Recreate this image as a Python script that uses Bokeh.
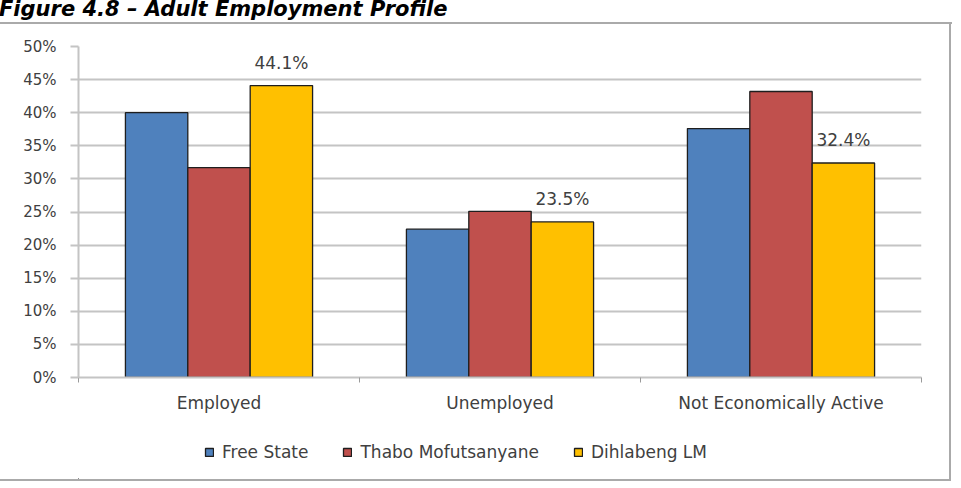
import numpy as np
from bokeh.plotting import figure
from bokeh.layouts import column, row
from bokeh.models import (ColumnDataSource, FixedTicker, PrintfTickFormatter, Range1d,
                          LabelSet, Legend, LegendItem, Div)
from bokeh.core.properties import value
from bokeh.transform import dodge
from bokeh.embed import file_html
from bokeh.resources import INLINE

# ---------------- data ----------------
categories = ["Employed", "Unemployed", "Not Economically Active"]
series_names = ["Free State", "Thabo Mofutsanyane", "Dihlabeng LM"]
free_state = [40.0, 22.4, 37.6]
thabo_mofutsanyane = [31.7, 25.1, 43.2]
dihlabeng_lm = [44.1, 23.5, 32.4]
y_ticks = [0, 5, 10, 15, 20, 25, 30, 35, 40, 45, 50]
title_text = "Figure 4.8 \u2013 Adult Employment Profile"
source_text = "Source: Stats SA Census 2001"

# ---------------- layout ----------------
PW = 949                      # width of the chart inside the grey box
PH, LH = 400, 55              # chart figure height, legend strip height
FL, FR, FT, FB = 78, 921, 22, 353
TXT = "#404040"
GRID = "#c4c4c4"
BOXC = "#aaaaaa"
FONT = "DejaVu Sans"
colors = ["#4F81BD", "#C0504D", "#FFC000"]
OUTLINE = "#1e1e1e"

xs = np.arange(len(categories)) + 0.5
src = ColumnDataSource(dict(
    x=xs, cat=categories,
    fs=free_state, tm=thabo_mofutsanyane, dl=dihlabeng_lm,
    dl_label=[f"{v:.1f}%" for v in dihlabeng_lm],
))
cols = ["fs", "tm", "dl"]

p = figure(width=PW, height=PH, x_range=Range1d(0, len(categories)), y_range=Range1d(0, 50),
           output_backend="svg", toolbar_location=None, margin=0,
           min_border_left=FL, min_border_right=PW - FR, min_border_top=FT, min_border_bottom=PH - FB)
p.outline_line_color = None
p.background_fill_color = "white"
p.border_fill_color = "white"

# grid
p.xgrid.grid_line_color = None
p.ygrid.ticker = FixedTicker(ticks=y_ticks)
p.ygrid.grid_line_color = GRID
p.ygrid.grid_line_width = 2

# y axis
ya = p.yaxis[0]
ya.ticker = FixedTicker(ticks=y_ticks)
ya.formatter = PrintfTickFormatter(format="%d%%")
ya.axis_line_color = GRID
ya.axis_line_width = 2
ya.major_tick_line_color = GRID
ya.major_tick_line_width = 2
ya.major_tick_out = 8
ya.major_tick_in = 0
ya.minor_tick_line_color = None
ya.major_label_standoff = 14
ya.major_label_text_font = FONT
ya.major_label_text_font_size = "15px"
ya.major_label_text_color = TXT

# x axis
xa = p.xaxis[0]
xa.ticker = FixedTicker(ticks=list(xs), minor_ticks=list(range(len(categories) + 1)))
xa.major_label_overrides = {float(x): c for x, c in zip(xs, categories)}
xa.axis_line_color = GRID
xa.axis_line_width = 2
xa.major_tick_line_color = None
xa.major_tick_out = 0
xa.major_tick_in = 0
xa.minor_tick_line_color = "#9a9a9a"
xa.minor_tick_out = 5
xa.minor_tick_in = 0
xa.major_label_standoff = 10
xa.major_label_text_font = FONT
xa.major_label_text_font_size = "17px"
xa.major_label_text_color = TXT

# bars
bw = 0.222
offsets = [-bw, 0.0, bw]
for col, color, off in zip(cols, colors, offsets):
    p.vbar(x=dodge("x", off, range=p.x_range), top=col, width=bw, source=src,
           fill_color=color, line_color=OUTLINE, line_width=1.3)

# data labels for Dihlabeng LM
p.add_layout(LabelSet(x=dodge("x", bw, range=p.x_range), y="dl", text="dl_label", source=src,
                      y_offset=17, text_align="center", text_baseline="alphabetic",
                      text_font=value(FONT), text_font_size="17px", text_color=TXT))

# legend strip (own small figure; its swatch renderers share the bar data but
# lie far outside this strip's ranges, so only the legend shows)
lf = figure(width=PW, height=LH, x_range=Range1d(100, 103), y_range=Range1d(100, 101),
            output_backend="svg", toolbar_location=None, margin=0, min_border=0,
            x_axis_location=None, y_axis_location=None)
lf.grid.visible = False
lf.outline_line_color = None
lf.border_fill_color = "white"
lf.background_fill_color = "white"
items = []
for name, col, color, off in zip(series_names, cols, colors, offsets):
    r = lf.vbar(x=dodge("x", off, range=lf.x_range), top=col, width=bw, source=src,
                fill_color=color, line_color=OUTLINE, line_width=1.3)
    items.append(LegendItem(label=name, renderers=[r]))
lg = Legend(items=items, orientation="horizontal", location=(126, 17),
            border_line_color=None, background_fill_alpha=0, padding=0, margin=0,
            spacing=34, glyph_width=10, glyph_height=10, label_standoff=8,
            label_text_font=FONT, label_text_font_size="17px", label_text_color=TXT)
lf.add_layout(lg)

title_div = Div(text=f'<span style="position:relative; top:1px; left:-1px">{title_text}</span>',
                width=961, height=22, margin=0,
                styles={"font-family": "DejaVu Sans", "font-size": "21px", "font-weight": "bold",
                        "font-style": "italic", "line-height": "16px", "overflow": "hidden",
                        "color": "black", "white-space": "nowrap"})
top_line = Div(text="", width=952, height=2, margin=0, styles={"background-color": BOXC})
right_line = Div(text="", width=2, height=PH + LH, margin=0, styles={"background-color": BOXC})
bottom_line = Div(text="", width=951, height=2, margin=0, styles={"background-color": BOXC})
source_div = Div(text=source_text, width=961, height=5, margin=0,
                 styles={"font-family": "DejaVu Sans", "font-size": "18px", "font-weight": "bold",
                         "font-style": "italic", "line-height": "24px", "overflow": "hidden",
                         "padding-left": "22px", "color": "black", "white-space": "nowrap"})

layout = column(title_div, top_line,
                row(column(p, lf, spacing=0, margin=0), right_line, spacing=0, margin=0),
                bottom_line, source_div, spacing=0, margin=0)
open("out.html", "w").write(file_html(layout, INLINE))
